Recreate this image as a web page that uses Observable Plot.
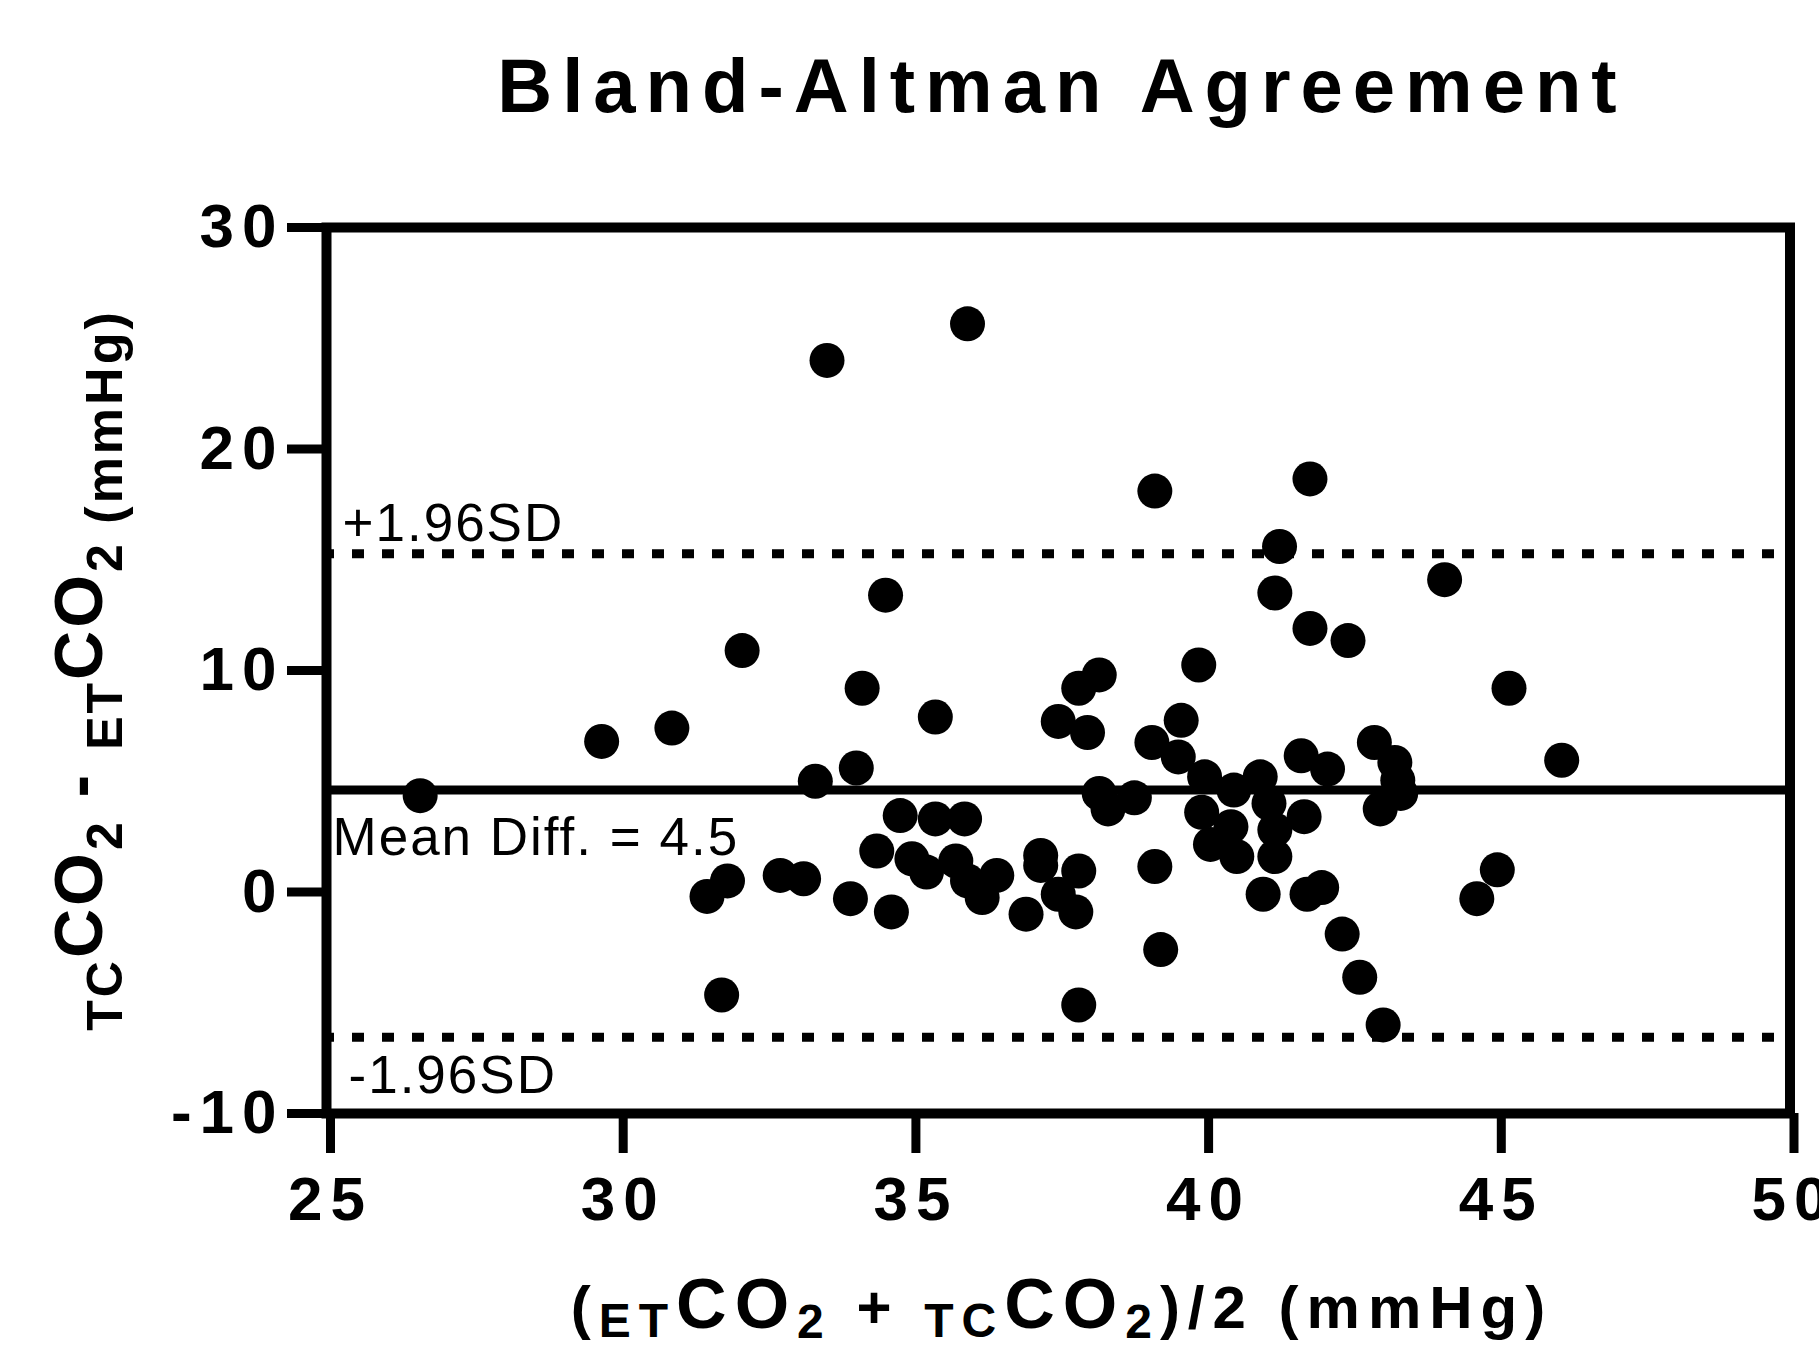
<!DOCTYPE html>
<html>
<head>
<meta charset="utf-8">
<script src="https://cdn.jsdelivr.net/npm/d3@7"></script>
<script src="https://cdn.jsdelivr.net/npm/@observablehq/plot@0.6"></script>
<style>
  html, body { margin: 0; padding: 0; background: #fff; }
  #chart svg { display: block; }
</style>
</head>
<body>
<div id="chart"></div>
<script>
// Average of the two methods, (ETCO2 + TCCO2)/2, mmHg
const averages = [
  33.55, 35.95, 39.15, 41.8, 41.28, 44.1, 41.2, 34.55, 41.8, 42.45,
  32.1, 39.9, 38.2, 37.85, 45.2, 34.15, 35.4, 39.6, 37.5, 38.0,
  30.9, 29.7, 46.1, 26.6, 33.35, 34.05, 39.1, 39.55, 40.0, 40.95,
  40.5, 39.95, 40.45, 41.1, 41.7, 41.2, 40.1, 40.55, 41.2, 41.65,
  42.1, 42.9, 43.25, 43.3, 43.0, 43.35, 38.2, 38.8, 38.35, 34.8,
  35.4, 35.9, 34.4, 35.0, 35.25, 35.75, 36.45, 36.2, 35.95, 37.2,
  37.2, 37.85, 37.5, 37.8, 36.95, 34.65, 33.95, 32.75, 33.15, 31.5,
  31.85, 31.75, 39.15, 39.25, 37.85, 41.0, 41.75, 42.0, 42.35, 42.65,
  43.05, 45.0, 44.65
];
// Difference TCCO2 - ETCO2, mmHg
const differences = [
  24.0, 25.65, 18.1, 18.65, 15.6, 14.1, 13.5, 13.4, 11.9, 11.35,
  10.9, 10.25, 9.8, 9.2, 9.2, 9.2, 7.9, 7.75, 7.7, 7.2,
  7.4, 6.8, 5.95, 4.35, 5.0, 5.6, 6.75, 6.1, 5.2, 5.2,
  4.6, 3.6, 2.95, 4.0, 3.4, 2.8, 2.15, 1.6, 1.6, 6.15,
  5.55, 6.75, 5.85, 5.05, 3.75, 4.45, 4.45, 4.25, 3.75, 3.45,
  3.3, 3.3, 1.85, 1.5, 0.9, 1.4, 0.75, -0.25, 0.5, 1.65,
  1.2, 0.95, -0.1, -0.9, -1.0, -0.9, -0.3, 0.75, 0.6, -0.2,
  0.5, -4.65, 1.15, -2.6, -5.1, -0.1, -0.1, 0.2, -1.9, -3.85,
  -6.0, 1.0, -0.3
];

const meanDiff = 4.6;
const upperLoA = 15.27;
const lowerLoA = -6.56;

const xTicks = [25, 30, 35, 40, 45, 50];
const yTicks = [-10, 0, 10, 20, 30];
const xDomain = [25, 50];
const yDomain = [-10, 30];

const titleText = "Bland-Altman Agreement";
const meanLabel = "Mean Diff. = 4.5";
const upperLabel = "+1.96SD";
const lowerLabel = "-1.96SD";

const points = averages.map((a, i) => ({avg: a, diff: differences[i]}));
const lineLabels = [
  {v: upperLoA, t: upperLabel, dx: 16, dy: -13},
  {v: lowerLoA, t: lowerLabel, dx: 22, dy: 56},
  {v: meanDiff, t: meanLabel, dx: 6, dy: 65}
];

const FONT = "'Liberation Sans', Arial, Helvetica, sans-serif";

const plot = Plot.plot({
  width: 1819,
  height: 1347,
  marginLeft: 326,
  marginRight: 29.5,
  marginTop: 227,
  marginBottom: 234,
  style: {fontFamily: FONT, background: "#fff", color: "#000", overflow: "visible"},
  x: {domain: xDomain},
  y: {domain: yDomain},
  marks: [
    Plot.ruleY([upperLoA, lowerLoA], {stroke: "#000", strokeWidth: 9, strokeDasharray: "12,18", strokeDashoffset: 4}),
    Plot.ruleY([meanDiff], {stroke: "#000", strokeWidth: 9}),
    Plot.text(lineLabels, {
      frameAnchor: "left", y: "v", text: "t", textAnchor: "start", lineAnchor: "bottom",
      fontSize: 53, fontWeight: "normal", fill: "#000"
    }),
    Plot.dot(points, {x: "avg", y: "diff", r: 17.5, fill: "#000", stroke: null}),
    Plot.frame({stroke: "#000", strokeWidth: 10}),
    Plot.axisX({ticks: xTicks, tickSize: 40, tickPadding: 22, strokeWidth: 9, fontSize: 62, fontWeight: "bold",
      tickFormat: d => String(d), label: null, dx: 4}),
    Plot.axisY({ticks: yTicks, tickSize: 39, tickPadding: 3, strokeWidth: 9, fontSize: 62, fontWeight: "bold",
      tickFormat: d => String(d), label: null})
  ]
});

document.getElementById("chart").appendChild(plot);
const svg = d3.select(plot);

// per-label offsets and letter spacing for line labels
svg.selectAll('g[aria-label="text"] text').each(function(d, i) {
  const L = lineLabels[i];
  if (!L) return;
  const sel = d3.select(this);
  const t = sel.attr("transform") || "";
  sel.attr("transform", t + ` translate(${L.dx},${L.dy})`).attr("letter-spacing", 2);
});
svg.selectAll('g[aria-label="y-axis tick label"] text').attr("letter-spacing", 8);
svg.selectAll('g[aria-label="x-axis tick label"] text').attr("letter-spacing", 8);

// Title
svg.append("text")
  .attr("x", 1062).attr("y", 112)
  .attr("text-anchor", "middle")
  .attr("font-family", FONT).attr("font-weight", "bold")
  .attr("font-size", 76).attr("letter-spacing", 10)
  .attr("fill", "#000")
  .text(titleText);

// X-axis title: (ETCO2 + TCCO2)/2 (mmHg)
const xl = svg.append("text")
  .attr("x", 1062).attr("y", 1328)
  .attr("text-anchor", "middle")
  .attr("font-family", FONT).attr("font-weight", "bold")
  .attr("font-size", 60).attr("letter-spacing", 8).attr("fill", "#000");
const xParts = [
  ["(", 60, 0], ["ET", 48, 9], ["CO", 70, -9], ["2", 48, 10], [" + ", 60, -10],
  ["TC", 48, 9], ["CO", 70, -9], ["2", 48, 10], [")/2 (mmHg)", 60, -10]
];
xParts.forEach(([t, fs, dy]) => xl.append("tspan").attr("font-size", fs).attr("dy", dy).text(t));

// Y-axis title: TCCO2 - ETCO2 (mmHg)
const yl = svg.append("text")
  .attr("transform", "translate(122,670) rotate(-90)")
  .attr("text-anchor", "middle")
  .attr("font-family", FONT).attr("font-weight", "bold")
  .attr("font-size", 52).attr("letter-spacing", 3).attr("fill", "#000");
const yParts = [
  ["TC", 50, 0], ["CO", 68, -20], ["2", 50, 20], [" - ", 68, -20],
  ["ET", 50, 20], ["CO", 68, -20], ["2", 50, 20], [" (mmHg)", 52, 0]
];
yParts.forEach(([t, fs, dy]) => yl.append("tspan").attr("font-size", fs).attr("dy", dy).text(t));
</script>
</body>
</html>
